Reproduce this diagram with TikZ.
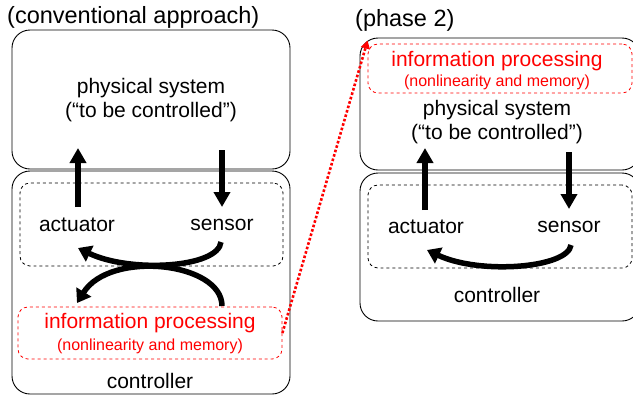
\documentclass[tikz,border=0pt]{standalone}
\usepackage{fontspec}
\setmainfont{Liberation Sans}
\usetikzlibrary{arrows.meta}
\begin{document}
\begin{tikzpicture}[x=1bp,y=-1bp,
  box/.style={draw=black,line width=0.9bp,rounded corners=18bp,inner sep=0pt},
  dbox/.style={draw=black,dashed,line width=0.8bp,rounded corners=10bp,inner sep=0pt},
  rbox/.style={draw=red,dashed,line width=0.8bp,rounded corners=10bp,inner sep=0pt},
  lbl/.style={font=\fontsize{21bp}{24bp}\selectfont,inner sep=0pt},
  ttl/.style={font=\fontsize{23.5bp}{26bp}\selectfont,inner sep=0pt},
  small/.style={font=\fontsize{16bp}{18bp}\selectfont,inner sep=0pt,text=red},
  big/.style={-{Triangle[width=16bp,length=15bp]},line width=5.5bp},
  curv/.style={-{Triangle[width=17bp,length=13bp]},line width=5.5bp},
]
\useasboundingbox (0,0) rectangle (633,397);
% ---------- left ----------
\node[ttl,anchor=west] (t1) at (7,17) {(conventional approach)};
\node[box,minimum width=278bp,minimum height=139bp] (lphys) at (151,99.5) {};
\node[box,minimum width=278bp,minimum height=223bp] (lctrl) at (151,282.5) {};
\node[dbox,minimum width=263bp,minimum height=83bp] (ldash) at (151.5,224.5) {};
\node[rbox,minimum width=264bp,minimum height=52bp] (lred) at (150,333) {};
\node[lbl] (lp1) at (151,88) {physical system};
\node[lbl] (lp2) at (151,112) {(“to be controlled”)};
\node[lbl] (la) at (77,225) {actuator};
\node[lbl] (ls) at (222,225) {sensor};
\node[lbl,text=red] (li1) at (150,323) {information processing};
\node[small] (li2) at (150,346) {(nonlinearity and memory)};
\node[lbl] (lc) at (150,381) {controller};
\coordinate (lau) at (78,148);
\coordinate (lad) at (78,207);
\coordinate (lsd) at (222,207);
\coordinate (lsu) at (222,150);
\draw[big] (lad) -- (lau);
\draw[big] (lsu) -- (lsd);
\coordinate (lc1s) at (221,242);
\coordinate (lc1e) at (78,248);
\draw[curv] (lc1s) .. controls (218,268) and (130,273) .. (lc1e);
\coordinate (lc2s) at (222,306);
\coordinate (lc2e) at (77,303);
\draw[curv] (lc2s) .. controls (222,262) and (110,250) .. (lc2e);
% ---------- right ----------
\node[ttl,anchor=west] (t2) at (355,20) {(phase 2)};
\node[box,minimum width=280bp,minimum height=132bp] (rphys) at (500,104) {};
\node[box,minimum width=280bp,minimum height=148bp] (rctrl) at (500,247) {};
\node[rbox,minimum width=264bp,minimum height=49bp] (rred) at (500,68.5) {};
\node[dbox,minimum width=264bp,minimum height=83bp] (rdash) at (500,226.5) {};
\node[lbl,text=red] (ri1) at (497,61) {information processing};
\node[small] (ri2) at (497,82) {(nonlinearity and memory)};
\node[lbl] (rp1) at (497,110) {physical system};
\node[lbl] (rp2) at (497,134) {(“to be controlled”)};
\node[lbl] (ra) at (426,227) {actuator};
\node[lbl] (rs) at (569,227) {sensor};
\node[lbl] (rc) at (497,295) {controller};
\coordinate (rad) at (425,210);
\coordinate (rau) at (425,148);
\coordinate (rsu) at (569,152);
\coordinate (rsd) at (569,209);
\draw[big] (rad) -- (rau);
\draw[big] (rsu) -- (rsd);
\coordinate (rcs) at (571,245);
\coordinate (rce) at (427,250);
\draw[curv] (rcs) .. controls (568,268) and (480,275) .. (rce);
% ---------- dotted link ----------
\draw[red,dotted,line width=2.6bp,-{Triangle[width=9bp,length=8bp]}] (lred.east) -- ([yshift=3bp]rred.north west);
\end{tikzpicture}
\end{document}
